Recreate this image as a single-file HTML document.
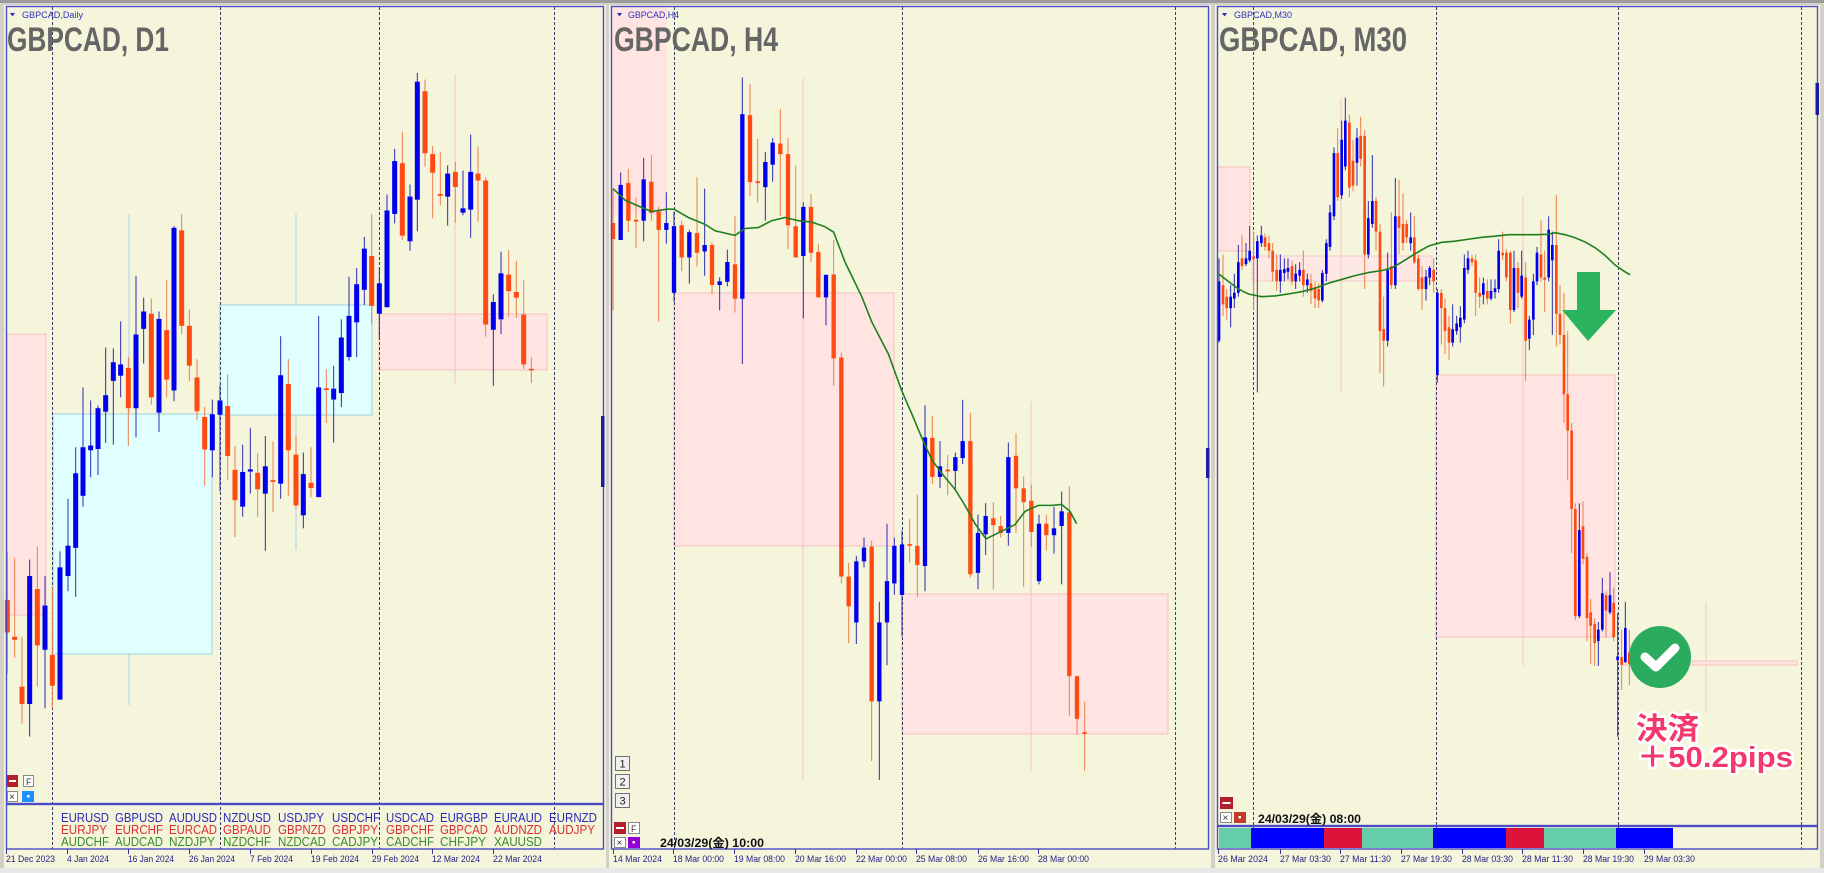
<!DOCTYPE html>
<html><head><meta charset="utf-8"><style>
html,body{margin:0;padding:0;background:#d4d0c8;overflow:hidden}
svg{display:block}
.b{fill:#0000ee}.o{fill:#ff4a12}.bw{fill:#2c2cb4}.ow{fill:#ee7f4c}
.t{font-family:"Liberation Sans","Noto Sans CJK JP",sans-serif}
.ax{font-family:"Liberation Sans",sans-serif;font-size:9px;fill:#222288}
.cur{font-family:"Liberation Sans",sans-serif;font-size:13px}
.dash{stroke:#3a3a70;stroke-width:1;stroke-dasharray:3,2}
.pk{fill:#ffe4e1;stroke:#f7c0c0;stroke-width:1}
.cy{fill:#e0ffff;stroke:#9fd0e2;stroke-width:1}
</style></head><body>
<svg width="1824" height="873" viewBox="0 0 1824 873" xmlns="http://www.w3.org/2000/svg">
<rect width="1824" height="873" fill="#d4d0c8"/>
<rect x="0" y="0" width="1824" height="3" fill="#9c9c9c"/>
<rect x="0" y="868" width="1824" height="5" fill="#e8e8e8"/>
<!-- window backgrounds -->
<rect x="4" y="5" width="602" height="863" fill="#f5f5dc"/>
<rect x="609" y="5" width="602" height="863" fill="#f5f5dc"/>
<rect x="1215" y="5" width="605" height="863" fill="#f5f5dc"/>

<!-- ===== LEFT PANEL ===== -->
<rect class="pk" x="7" y="334" width="39" height="281"/>
<rect class="cy" x="53" y="414" width="159" height="240"/>
<rect class="cy" x="220" y="305" width="152" height="110"/>
<rect class="pk" x="379" y="314" width="168" height="56"/>
<rect x="128.5" y="214" width="1" height="200" fill="#a8d4e4"/>
<rect x="128.5" y="654" width="1" height="51" fill="#a8d4e4"/>
<rect x="295.5" y="214" width="1" height="91" fill="#a8d4e4"/>
<rect x="295.5" y="415" width="1" height="135" fill="#a8d4e4"/>
<rect x="454.5" y="74" width="1" height="310" fill="#f6c4c4"/>
<line class="dash" x1="52.5" y1="7" x2="52.5" y2="849"/>
<line class="dash" x1="220.5" y1="7" x2="220.5" y2="849"/>
<line class="dash" x1="379.5" y1="7" x2="379.5" y2="849"/>
<line class="dash" x1="554.5" y1="7" x2="554.5" y2="849"/>
<g transform="translate(0,60) scale(0.33333,0.43365)">
<rect class="ow" x="20.5" y="1135" width="3" height="280"/><rect class="o" x="14.5" y="1245" width="15" height="75"/>
<rect class="ow" x="42.5" y="1148" width="3" height="230"/><rect class="o" x="36.5" y="1330" width="15" height="7"/>
<rect class="ow" x="64.5" y="1330" width="3" height="200"/><rect class="o" x="58.5" y="1445" width="15" height="40"/>
<rect class="bw" x="87.5" y="1152" width="3" height="408"/><rect class="b" x="81.5" y="1190" width="15" height="295"/>
<rect class="ow" x="110.5" y="1122" width="3" height="323"/><rect class="o" x="104.5" y="1220" width="15" height="130"/>
<rect class="bw" x="133.5" y="1190" width="3" height="305"/><rect class="b" x="127.5" y="1258" width="15" height="102"/>
<rect class="ow" x="155.5" y="1215" width="3" height="280"/><rect class="o" x="149.5" y="1372" width="15" height="71"/>
<rect class="bw" x="178.5" y="1133" width="3" height="342"/><rect class="b" x="172.5" y="1170" width="15" height="305"/>
<rect class="bw" x="202.5" y="1012" width="3" height="213"/><rect class="b" x="196.5" y="1120" width="15" height="70"/>
<rect class="bw" x="225.5" y="893" width="3" height="345"/><rect class="b" x="219.5" y="953" width="15" height="172"/>
<rect class="bw" x="247.5" y="755" width="3" height="275"/><rect class="b" x="241.5" y="893" width="15" height="112"/>
<rect class="bw" x="270.5" y="785" width="3" height="177"/><rect class="b" x="264.5" y="889" width="15" height="11"/>
<rect class="bw" x="292.5" y="797" width="3" height="160"/><rect class="b" x="286.5" y="803" width="15" height="94"/>
<rect class="bw" x="315.5" y="663" width="3" height="220"/><rect class="b" x="309.5" y="773" width="15" height="38"/>
<rect class="bw" x="338.5" y="665" width="3" height="222"/><rect class="b" x="332.5" y="697" width="15" height="43"/>
<rect class="bw" x="360.5" y="603" width="3" height="175"/><rect class="b" x="354.5" y="702" width="15" height="26"/>
<rect class="ow" x="383.5" y="685" width="3" height="205"/><rect class="o" x="377.5" y="710" width="15" height="93"/>
<rect class="bw" x="406.5" y="498" width="3" height="372"/><rect class="b" x="400.5" y="633" width="15" height="170"/>
<rect class="bw" x="429.5" y="548" width="3" height="152"/><rect class="b" x="423.5" y="580" width="15" height="40"/>
<rect class="ow" x="452.5" y="550" width="3" height="245"/><rect class="o" x="446.5" y="585" width="15" height="193"/>
<rect class="bw" x="475.5" y="580" width="3" height="278"/><rect class="b" x="469.5" y="597" width="15" height="216"/>
<rect class="ow" x="498.5" y="507" width="3" height="271"/><rect class="o" x="492.5" y="623" width="15" height="114"/>
<rect class="bw" x="520.5" y="383" width="3" height="404"/><rect class="b" x="514.5" y="387" width="15" height="375"/>
<rect class="ow" x="543.5" y="355" width="3" height="277"/><rect class="o" x="537.5" y="393" width="15" height="220"/>
<rect class="ow" x="566.5" y="575" width="3" height="165"/><rect class="o" x="560.5" y="613" width="15" height="92"/>
<rect class="ow" x="589.5" y="690" width="3" height="140"/><rect class="o" x="583.5" y="732" width="15" height="78"/>
<rect class="ow" x="612.5" y="800" width="3" height="182"/><rect class="o" x="606.5" y="823" width="15" height="75"/>
<rect class="bw" x="635.5" y="783" width="3" height="179"/><rect class="b" x="629.5" y="817" width="15" height="83"/>
<rect class="bw" x="658.5" y="750" width="3" height="245"/><rect class="b" x="652.5" y="785" width="15" height="33"/>
<rect class="ow" x="681.5" y="725" width="3" height="243"/><rect class="o" x="675.5" y="798" width="15" height="115"/>
<rect class="ow" x="703.5" y="890" width="3" height="210"/><rect class="o" x="697.5" y="945" width="15" height="70"/>
<rect class="bw" x="726.5" y="887" width="3" height="166"/><rect class="b" x="720.5" y="950" width="15" height="80"/>
<rect class="bw" x="749.5" y="848" width="3" height="152"/><rect class="b" x="743.5" y="944" width="15" height="5"/>
<rect class="ow" x="771.5" y="907" width="3" height="146"/><rect class="o" x="765.5" y="952" width="15" height="38"/>
<rect class="bw" x="794.5" y="867" width="3" height="265"/><rect class="b" x="788.5" y="937" width="15" height="63"/>
<rect class="ow" x="817.5" y="880" width="3" height="163"/><rect class="o" x="811.5" y="969" width="15" height="4"/>
<rect class="bw" x="840.5" y="637" width="3" height="375"/><rect class="b" x="834.5" y="727" width="15" height="250"/>
<rect class="ow" x="863.5" y="690" width="3" height="315"/><rect class="o" x="857.5" y="747" width="15" height="153"/>
<rect class="ow" x="886.5" y="867" width="3" height="168"/><rect class="o" x="880.5" y="910" width="15" height="117"/>
<rect class="bw" x="908.5" y="905" width="3" height="175"/><rect class="b" x="902.5" y="955" width="15" height="95"/>
</g>
<g transform="translate(300,60) scale(0.33333,0.43365)">
<rect class="ow" x="31.5" y="893" width="3" height="115"/><rect class="o" x="25.5" y="975" width="15" height="12"/>
<rect class="bw" x="54.5" y="590" width="3" height="418"/><rect class="b" x="48.5" y="755" width="15" height="253"/>
<rect class="ow" x="77.5" y="713" width="3" height="124"/><rect class="o" x="71.5" y="757" width="15" height="4"/>
<rect class="bw" x="99.5" y="705" width="3" height="177"/><rect class="b" x="93.5" y="758" width="15" height="25"/>
<rect class="bw" x="122.5" y="598" width="3" height="202"/><rect class="b" x="116.5" y="640" width="15" height="128"/>
<rect class="bw" x="145.5" y="500" width="3" height="193"/><rect class="b" x="139.5" y="590" width="15" height="95"/>
<rect class="bw" x="168.5" y="480" width="3" height="205"/><rect class="b" x="162.5" y="517" width="15" height="88"/>
<rect class="bw" x="191.5" y="408" width="3" height="157"/><rect class="b" x="185.5" y="435" width="15" height="95"/>
<rect class="ow" x="213.5" y="355" width="3" height="255"/><rect class="o" x="207.5" y="452" width="15" height="115"/>
<rect class="bw" x="236.5" y="478" width="3" height="162"/><rect class="b" x="230.5" y="515" width="15" height="70"/>
<rect class="bw" x="259.5" y="310" width="3" height="260"/><rect class="b" x="253.5" y="347" width="15" height="223"/>
<rect class="bw" x="282.5" y="205" width="3" height="172"/><rect class="b" x="276.5" y="233" width="15" height="122"/>
<rect class="ow" x="305.5" y="165" width="3" height="250"/><rect class="o" x="299.5" y="238" width="15" height="167"/>
<rect class="bw" x="328.5" y="287" width="3" height="153"/><rect class="b" x="322.5" y="315" width="15" height="103"/>
<rect class="bw" x="350.5" y="30" width="3" height="365"/><rect class="b" x="344.5" y="50" width="15" height="272"/>
<rect class="ow" x="373.5" y="45" width="3" height="200"/><rect class="o" x="367.5" y="72" width="15" height="143"/>
<rect class="ow" x="396.5" y="198" width="3" height="167"/><rect class="o" x="390.5" y="217" width="15" height="43"/>
<rect class="ow" x="419.5" y="213" width="3" height="122"/><rect class="o" x="413.5" y="309" width="15" height="4"/>
<rect class="bw" x="441.5" y="243" width="3" height="139"/><rect class="b" x="435.5" y="262" width="15" height="53"/>
<rect class="ow" x="464.5" y="235" width="3" height="140"/><rect class="o" x="458.5" y="258" width="15" height="35"/>
<rect class="bw" x="487.5" y="255" width="3" height="103"/><rect class="b" x="481.5" y="342" width="15" height="10"/>
<rect class="bw" x="510.5" y="172" width="3" height="238"/><rect class="b" x="504.5" y="258" width="15" height="87"/>
<rect class="ow" x="532.5" y="200" width="3" height="173"/><rect class="o" x="526.5" y="262" width="15" height="16"/>
<rect class="ow" x="555.5" y="270" width="3" height="368"/><rect class="o" x="549.5" y="278" width="15" height="332"/>
<rect class="bw" x="578.5" y="540" width="3" height="212"/><rect class="b" x="572.5" y="558" width="15" height="64"/>
<rect class="bw" x="601.5" y="442" width="3" height="190"/><rect class="b" x="595.5" y="492" width="15" height="106"/>
<rect class="ow" x="624.5" y="438" width="3" height="155"/><rect class="o" x="618.5" y="495" width="15" height="38"/>
<rect class="ow" x="647.5" y="463" width="3" height="132"/><rect class="o" x="641.5" y="535" width="15" height="13"/>
<rect class="ow" x="669.5" y="508" width="3" height="205"/><rect class="o" x="663.5" y="587" width="15" height="115"/>
<rect class="ow" x="692.5" y="685" width="3" height="60"/><rect class="o" x="686.5" y="712" width="15" height="4"/>
</g>
<!-- left borders -->
<rect x="6.5" y="6.5" width="597" height="797" fill="none" stroke="#4b4bc6" stroke-width="1.4"/>
<rect x="6.5" y="804.5" width="597" height="44.5" fill="none" stroke="#4b4bc6" stroke-width="1.4"/>
<rect x="601" y="416" width="3.5" height="71" fill="#1c1ca0"/>
<!-- left titles -->
<polygon points="10,13 15,13 12.5,16.5" fill="#2a2ac0"/>
<text class="t" x="22" y="18" font-size="9" fill="#3030c0" textLength="61" lengthAdjust="spacingAndGlyphs">GBPCAD,Daily</text>
<text class="t" x="7" y="51" font-size="34" font-weight="bold" fill="#666666" textLength="162" lengthAdjust="spacingAndGlyphs">GBPCAD, D1</text>
<!-- left buttons -->
<rect x="7" y="775" width="11" height="12" fill="#b3202c"/><rect x="9" y="780" width="7" height="2" fill="#fff"/>
<rect x="23.5" y="775.5" width="10" height="11" fill="#fff" stroke="#888"/><text class="t" x="26" y="785" font-size="9" fill="#333">F</text>
<rect x="7.5" y="791.5" width="10" height="10" fill="#fff" stroke="#888"/><text class="t" x="9" y="800" font-size="10" fill="#333">×</text>
<rect x="22" y="791" width="12" height="11" fill="#1e8fff"/><rect x="27" y="795" width="2.5" height="2.5" fill="#fff"/>
<!-- currency subwindow -->
<g class="cur">
<g fill="#2b2bb8">
<text x="61" y="822" textLength="48" lengthAdjust="spacingAndGlyphs">EURUSD</text>
<text x="115" y="822" textLength="48" lengthAdjust="spacingAndGlyphs">GBPUSD</text>
<text x="169" y="822" textLength="48" lengthAdjust="spacingAndGlyphs">AUDUSD</text>
<text x="223" y="822" textLength="48" lengthAdjust="spacingAndGlyphs">NZDUSD</text>
<text x="278" y="822" textLength="46" lengthAdjust="spacingAndGlyphs">USDJPY</text>
<text x="332" y="822" textLength="48" lengthAdjust="spacingAndGlyphs">USDCHF</text>
<text x="386" y="822" textLength="48" lengthAdjust="spacingAndGlyphs">USDCAD</text>
<text x="440" y="822" textLength="48" lengthAdjust="spacingAndGlyphs">EURGBP</text>
<text x="494" y="822" textLength="48" lengthAdjust="spacingAndGlyphs">EURAUD</text>
<text x="549" y="822" textLength="48" lengthAdjust="spacingAndGlyphs">EURNZD</text>
</g>
<g fill="#d83030">
<text x="61" y="834" textLength="46" lengthAdjust="spacingAndGlyphs">EURJPY</text>
<text x="115" y="834" textLength="48" lengthAdjust="spacingAndGlyphs">EURCHF</text>
<text x="169" y="834" textLength="48" lengthAdjust="spacingAndGlyphs">EURCAD</text>
<text x="223" y="834" textLength="48" lengthAdjust="spacingAndGlyphs">GBPAUD</text>
<text x="278" y="834" textLength="48" lengthAdjust="spacingAndGlyphs">GBPNZD</text>
<text x="332" y="834" textLength="46" lengthAdjust="spacingAndGlyphs">GBPJPY</text>
<text x="386" y="834" textLength="48" lengthAdjust="spacingAndGlyphs">GBPCHF</text>
<text x="440" y="834" textLength="48" lengthAdjust="spacingAndGlyphs">GBPCAD</text>
<text x="494" y="834" textLength="48" lengthAdjust="spacingAndGlyphs">AUDNZD</text>
<text x="549" y="834" textLength="46" lengthAdjust="spacingAndGlyphs">AUDJPY</text>
</g>
<g fill="#3a8a2a">
<text x="61" y="846" textLength="48" lengthAdjust="spacingAndGlyphs">AUDCHF</text>
<text x="115" y="846" textLength="48" lengthAdjust="spacingAndGlyphs">AUDCAD</text>
<text x="169" y="846" textLength="46" lengthAdjust="spacingAndGlyphs">NZDJPY</text>
<text x="223" y="846" textLength="48" lengthAdjust="spacingAndGlyphs">NZDCHF</text>
<text x="278" y="846" textLength="48" lengthAdjust="spacingAndGlyphs">NZDCAD</text>
<text x="332" y="846" textLength="46" lengthAdjust="spacingAndGlyphs">CADJPY</text>
<text x="386" y="846" textLength="48" lengthAdjust="spacingAndGlyphs">CADCHF</text>
<text x="440" y="846" textLength="46" lengthAdjust="spacingAndGlyphs">CHFJPY</text>
<text x="494" y="846" textLength="48" lengthAdjust="spacingAndGlyphs">XAUUSD</text>
</g>
</g>
<!-- left axis -->
<g stroke="#333399" stroke-width="1">
<line x1="6.5" y1="849" x2="6.5" y2="854"/><line x1="67.5" y1="849" x2="67.5" y2="854"/><line x1="128.5" y1="849" x2="128.5" y2="854"/><line x1="189.5" y1="849" x2="189.5" y2="854"/><line x1="250.5" y1="849" x2="250.5" y2="854"/><line x1="311.5" y1="849" x2="311.5" y2="854"/><line x1="372.5" y1="849" x2="372.5" y2="854"/><line x1="432.5" y1="849" x2="432.5" y2="854"/><line x1="493.5" y1="849" x2="493.5" y2="854"/>
</g>
<g class="ax">
<text x="6" y="862" textLength="49" lengthAdjust="spacingAndGlyphs">21 Dec 2023</text>
<text x="67" y="862" textLength="42" lengthAdjust="spacingAndGlyphs">4 Jan 2024</text>
<text x="128" y="862" textLength="46" lengthAdjust="spacingAndGlyphs">16 Jan 2024</text>
<text x="189" y="862" textLength="46" lengthAdjust="spacingAndGlyphs">26 Jan 2024</text>
<text x="250" y="862" textLength="43" lengthAdjust="spacingAndGlyphs">7 Feb 2024</text>
<text x="311" y="862" textLength="48" lengthAdjust="spacingAndGlyphs">19 Feb 2024</text>
<text x="372" y="862" textLength="47" lengthAdjust="spacingAndGlyphs">29 Feb 2024</text>
<text x="432" y="862" textLength="48" lengthAdjust="spacingAndGlyphs">12 Mar 2024</text>
<text x="493" y="862" textLength="49" lengthAdjust="spacingAndGlyphs">22 Mar 2024</text>
</g>

<!-- ===== MIDDLE PANEL ===== -->
<rect x="611" y="6" width="56" height="209" fill="#ffe4e1"/>
<rect class="pk" x="674" y="293" width="220" height="253"/>
<rect class="pk" x="902" y="594" width="266" height="140"/>
<rect x="802.5" y="78" width="1" height="702" fill="#f6c4c4"/>
<rect x="1030.5" y="401" width="1" height="370" fill="#f6c4c4"/>
<line class="dash" x1="674.5" y1="7" x2="674.5" y2="849"/>
<line class="dash" x1="902.5" y1="7" x2="902.5" y2="849"/>
<line class="dash" x1="1175.5" y1="7" x2="1175.5" y2="849"/>
<g transform="translate(605,60) scale(0.33333,0.45914)">
<rect class="ow" x="22.5" y="280" width="3" height="265"/><rect class="o" x="17.5" y="355" width="13" height="35"/>
<rect class="bw" x="45.5" y="245" width="3" height="147"/><rect class="b" x="40.5" y="272" width="13" height="120"/>
<rect class="ow" x="68.5" y="237" width="3" height="138"/><rect class="o" x="63.5" y="268" width="13" height="82"/>
<rect class="ow" x="91.5" y="300" width="3" height="110"/><rect class="o" x="86.5" y="348" width="13" height="4"/>
<rect class="bw" x="114.5" y="213" width="3" height="182"/><rect class="b" x="109.5" y="260" width="13" height="90"/>
<rect class="ow" x="137.5" y="207" width="3" height="143"/><rect class="o" x="132.5" y="265" width="13" height="68"/>
<rect class="ow" x="159.5" y="320" width="3" height="250"/><rect class="o" x="154.5" y="330" width="13" height="40"/>
<rect class="bw" x="182.5" y="288" width="3" height="112"/><rect class="b" x="177.5" y="355" width="13" height="15"/>
<rect class="bw" x="205.5" y="330" width="3" height="197"/><rect class="b" x="200.5" y="362" width="13" height="145"/>
<rect class="ow" x="228.5" y="350" width="3" height="110"/><rect class="o" x="223.5" y="360" width="13" height="70"/>
<rect class="bw" x="251.5" y="370" width="3" height="117"/><rect class="b" x="246.5" y="375" width="13" height="55"/>
<rect class="ow" x="274.5" y="255" width="3" height="195"/><rect class="o" x="269.5" y="377" width="13" height="43"/>
<rect class="bw" x="297.5" y="280" width="3" height="190"/><rect class="b" x="292.5" y="403" width="13" height="14"/>
<rect class="ow" x="319.5" y="397" width="3" height="113"/><rect class="o" x="314.5" y="403" width="13" height="87"/>
<rect class="bw" x="342.5" y="473" width="3" height="72"/><rect class="b" x="337.5" y="482" width="13" height="8"/>
<rect class="bw" x="365.5" y="413" width="3" height="80"/><rect class="b" x="360.5" y="440" width="13" height="43"/>
<rect class="ow" x="388.5" y="340" width="3" height="210"/><rect class="o" x="383.5" y="445" width="13" height="75"/>
<rect class="bw" x="410.5" y="38" width="3" height="624"/><rect class="b" x="405.5" y="118" width="13" height="402"/>
<rect class="ow" x="433.5" y="52" width="3" height="245"/><rect class="o" x="428.5" y="120" width="13" height="146"/>
<rect class="ow" x="456.5" y="172" width="3" height="138"/><rect class="o" x="451.5" y="264" width="13" height="4"/>
<rect class="bw" x="479.5" y="200" width="3" height="150"/><rect class="b" x="474.5" y="222" width="13" height="55"/>
<rect class="bw" x="501.5" y="170" width="3" height="95"/><rect class="b" x="496.5" y="180" width="13" height="48"/>
<rect class="ow" x="524.5" y="107" width="3" height="233"/><rect class="o" x="519.5" y="182" width="13" height="23"/>
<rect class="ow" x="547.5" y="170" width="3" height="242"/><rect class="o" x="542.5" y="205" width="13" height="155"/>
<rect class="ow" x="570.5" y="230" width="3" height="200"/><rect class="o" x="565.5" y="362" width="13" height="68"/>
<rect class="bw" x="593.5" y="310" width="3" height="253"/><rect class="b" x="588.5" y="320" width="13" height="107"/>
<rect class="ow" x="616.5" y="292" width="3" height="148"/><rect class="o" x="611.5" y="320" width="13" height="100"/>
<rect class="ow" x="638.5" y="400" width="3" height="117"/><rect class="o" x="633.5" y="418" width="13" height="99"/>
<rect class="bw" x="661.5" y="467" width="3" height="111"/><rect class="b" x="656.5" y="468" width="13" height="49"/>
<rect class="ow" x="684.5" y="392" width="3" height="318"/><rect class="o" x="679.5" y="467" width="13" height="183"/>
<rect class="ow" x="707.5" y="637" width="3" height="503"/><rect class="o" x="702.5" y="648" width="13" height="477"/>
<rect class="ow" x="729.5" y="1095" width="3" height="175"/><rect class="o" x="724.5" y="1125" width="13" height="65"/>
<rect class="bw" x="752.5" y="1080" width="3" height="192"/><rect class="b" x="747.5" y="1092" width="13" height="133"/>
<rect class="bw" x="775.5" y="1040" width="3" height="65"/><rect class="b" x="770.5" y="1062" width="13" height="30"/>
<rect class="ow" x="798.5" y="1047" width="3" height="480"/><rect class="o" x="793.5" y="1060" width="13" height="337"/>
<rect class="bw" x="821.5" y="1180" width="3" height="388"/><rect class="b" x="816.5" y="1225" width="13" height="172"/>
<rect class="bw" x="844.5" y="1010" width="3" height="308"/><rect class="b" x="839.5" y="1135" width="13" height="90"/>
<rect class="bw" x="866.5" y="1040" width="3" height="125"/><rect class="b" x="861.5" y="1058" width="13" height="82"/>
<rect class="bw" x="889.5" y="1025" width="3" height="230"/><rect class="b" x="884.5" y="1055" width="13" height="110"/>
<rect class="ow" x="912.5" y="1000" width="3" height="95"/><rect class="o" x="907.5" y="1054" width="13" height="4"/>
<rect class="ow" x="935.5" y="947" width="3" height="223"/><rect class="o" x="930.5" y="1058" width="13" height="42"/>
<rect class="bw" x="958.5" y="752" width="3" height="405"/><rect class="b" x="953.5" y="822" width="13" height="280"/>
<rect class="ow" x="980.5" y="775" width="3" height="148"/><rect class="o" x="975.5" y="823" width="13" height="85"/>
<rect class="bw" x="1003.5" y="830" width="3" height="102"/><rect class="b" x="998.5" y="885" width="13" height="23"/>
<rect class="ow" x="1026.5" y="860" width="3" height="88"/><rect class="o" x="1021.5" y="892" width="13" height="4"/>
<rect class="bw" x="1049.5" y="855" width="3" height="83"/><rect class="b" x="1044.5" y="865" width="13" height="30"/>
<rect class="bw" x="1071.5" y="740" width="3" height="140"/><rect class="b" x="1066.5" y="830" width="13" height="37"/>
<rect class="ow" x="1094.5" y="768" width="3" height="359"/><rect class="o" x="1089.5" y="830" width="13" height="290"/>
<rect class="bw" x="1117.5" y="990" width="3" height="163"/><rect class="b" x="1112.5" y="1030" width="13" height="87"/>
<rect class="bw" x="1140.5" y="965" width="3" height="113"/><rect class="b" x="1135.5" y="993" width="13" height="40"/>
<rect class="ow" x="1163.5" y="963" width="3" height="190"/><rect class="o" x="1158.5" y="998" width="13" height="15"/>
<rect class="ow" x="1185.5" y="993" width="3" height="47"/><rect class="o" x="1180.5" y="1015" width="13" height="15"/>
<rect class="bw" x="1208.5" y="833" width="3" height="225"/><rect class="b" x="1203.5" y="865" width="13" height="165"/>
<rect class="ow" x="1231.5" y="813" width="3" height="217"/><rect class="o" x="1226.5" y="862" width="13" height="71"/>
<rect class="ow" x="1254.5" y="907" width="3" height="241"/><rect class="o" x="1249.5" y="933" width="13" height="30"/>
<rect class="ow" x="1277.5" y="925" width="3" height="135"/><rect class="o" x="1272.5" y="960" width="13" height="68"/>
<rect class="bw" x="1300.5" y="990" width="3" height="152"/><rect class="b" x="1295.5" y="1010" width="13" height="125"/>
<rect class="ow" x="1322.5" y="990" width="3" height="78"/><rect class="o" x="1317.5" y="1010" width="13" height="25"/>
<rect class="bw" x="1345.5" y="973" width="3" height="102"/><rect class="b" x="1340.5" y="1020" width="13" height="15"/>
<rect class="bw" x="1368.5" y="940" width="3" height="202"/><rect class="b" x="1363.5" y="983" width="13" height="32"/>
<rect class="ow" x="1391.5" y="928" width="3" height="500"/><rect class="o" x="1386.5" y="985" width="13" height="357"/>
<rect class="ow" x="1414.5" y="1342" width="3" height="128"/><rect class="o" x="1409.5" y="1342" width="13" height="93"/>
<rect class="ow" x="1437.5" y="1398" width="3" height="150"/><rect class="o" x="1432.5" y="1464" width="13" height="4"/>
<polyline fill="none" stroke="#1f7f1f" stroke-width="1.6" vector-effect="non-scaling-stroke" points="24,280 60,305 100,318 140,330 185,325 207,325 250,343 300,358 330,372 390,382 420,367 460,365 500,350 540,343 580,350 620,353 660,363 686,375 720,440 770,515 800,570 850,640 890,720 920,770 950,822 980,870 1010,900 1050,935 1080,970 1110,1010 1143,1043 1180,1030 1230,1012 1260,983 1300,970 1340,970 1370,968 1395,983 1415,1010"/>
</g>
<rect x="611.5" y="6.5" width="597" height="842.5" fill="none" stroke="#4b4bc6" stroke-width="1.4"/>
<rect x="1206" y="448" width="3.5" height="30" fill="#1c1ca0"/>
<polygon points="617,13 622,13 619.5,16.5" fill="#2a2ac0"/>
<text class="t" x="628" y="18" font-size="9" fill="#3030c0" textLength="51" lengthAdjust="spacingAndGlyphs">GBPCAD,H4</text>
<text class="t" x="614" y="51" font-size="34" font-weight="bold" fill="#666666" textLength="164" lengthAdjust="spacingAndGlyphs">GBPCAD, H4</text>
<!-- middle buttons -->
<g font-family="Liberation Sans,sans-serif" font-size="11" fill="#222">
<rect x="615.5" y="756.5" width="14" height="14" fill="#f0f0f0" stroke="#707070"/><text x="619.5" y="767.5">1</text>
<rect x="615.5" y="774.5" width="14" height="14" fill="#f0f0f0" stroke="#707070"/><text x="619.5" y="785.5">2</text>
<rect x="615.5" y="793.5" width="14" height="14" fill="#f0f0f0" stroke="#707070"/><text x="619.5" y="804.5">3</text>
</g>
<rect x="614" y="822" width="12" height="12" fill="#b3202c"/><rect x="616" y="827" width="8" height="2" fill="#fff"/>
<rect x="628.5" y="822.5" width="11" height="11" fill="#fff" stroke="#888"/><text class="t" x="631" y="832" font-size="9" fill="#333">F</text>
<rect x="614.5" y="837.5" width="11" height="10" fill="#fff" stroke="#888"/><text class="t" x="616.5" y="846" font-size="10" fill="#333">×</text>
<rect x="628" y="837" width="12" height="11" fill="#9400d3"/><rect x="632.5" y="841" width="2.5" height="2.5" fill="#fff"/>
<text class="t" x="660" y="847" font-size="12" font-weight="bold" fill="#111" textLength="104" lengthAdjust="spacingAndGlyphs">24/03/29(金) 10:00</text>
<g stroke="#333399" stroke-width="1">
<line x1="613.5" y1="849" x2="613.5" y2="854"/><line x1="673.5" y1="849" x2="673.5" y2="854"/><line x1="734.5" y1="849" x2="734.5" y2="854"/><line x1="795.5" y1="849" x2="795.5" y2="854"/><line x1="856.5" y1="849" x2="856.5" y2="854"/><line x1="916.5" y1="849" x2="916.5" y2="854"/><line x1="978.5" y1="849" x2="978.5" y2="854"/><line x1="1038.5" y1="849" x2="1038.5" y2="854"/>
</g>
<g class="ax">
<text x="613" y="862" textLength="49" lengthAdjust="spacingAndGlyphs">14 Mar 2024</text>
<text x="673" y="862" textLength="51" lengthAdjust="spacingAndGlyphs">18 Mar 00:00</text>
<text x="734" y="862" textLength="51" lengthAdjust="spacingAndGlyphs">19 Mar 08:00</text>
<text x="795" y="862" textLength="51" lengthAdjust="spacingAndGlyphs">20 Mar 16:00</text>
<text x="856" y="862" textLength="51" lengthAdjust="spacingAndGlyphs">22 Mar 00:00</text>
<text x="916" y="862" textLength="51" lengthAdjust="spacingAndGlyphs">25 Mar 08:00</text>
<text x="978" y="862" textLength="51" lengthAdjust="spacingAndGlyphs">26 Mar 16:00</text>
<text x="1038" y="862" textLength="51" lengthAdjust="spacingAndGlyphs">28 Mar 00:00</text>
</g>

<!-- ===== RIGHT PANEL ===== -->
<rect class="pk" x="1218" y="167" width="32" height="84"/>
<rect x="1252" y="256" width="180" height="25" fill="#fde8e4" stroke="#f7cccc" stroke-width="1"/>
<rect class="pk" x="1436" y="375" width="179" height="262"/>
<rect x="1340.5" y="98" width="1" height="294" fill="#f6c4c4"/>
<rect x="1522.5" y="197" width="1" height="469" fill="#f6c4c4"/>
<rect x="1705.5" y="603" width="1" height="110" fill="#f6c4c4"/>
<rect x="1622" y="661" width="175" height="4" fill="#ffe4e1" stroke="#f7c0c0" stroke-width="1"/>
<line class="dash" x1="1253.5" y1="7" x2="1253.5" y2="849"/>
<line class="dash" x1="1436.5" y1="7" x2="1436.5" y2="849"/>
<line class="dash" x1="1618.5" y1="7" x2="1618.5" y2="849"/>
<line class="dash" x1="1801.5" y1="7" x2="1801.5" y2="849"/>
<g transform="translate(1215,90) scale(0.33333,0.3827)">
<rect class="bw" x="10.5" y="440" width="3" height="220"/><rect class="b" x="8" y="500" width="8" height="155"/>
<rect class="ow" x="22.5" y="430" width="3" height="160"/><rect class="o" x="20" y="510" width="8" height="50"/>
<rect class="ow" x="33.5" y="520" width="3" height="80"/><rect class="o" x="31" y="540" width="8" height="30"/>
<rect class="bw" x="45.5" y="510" width="3" height="110"/><rect class="b" x="43" y="540" width="8" height="30"/>
<rect class="bw" x="56.5" y="480" width="3" height="90"/><rect class="b" x="54" y="530" width="8" height="15"/>
<rect class="bw" x="68.5" y="405" width="3" height="135"/><rect class="b" x="66" y="450" width="8" height="80"/>
<rect class="ow" x="79.5" y="380" width="3" height="90"/><rect class="o" x="77" y="440" width="8" height="20"/>
<rect class="bw" x="91.5" y="400" width="3" height="60"/><rect class="b" x="89" y="440" width="8" height="15"/>
<rect class="bw" x="102.5" y="355" width="3" height="95"/><rect class="b" x="100" y="420" width="8" height="25"/>
<rect class="ow" x="114.5" y="370" width="3" height="205"/><rect class="o" x="112" y="435" width="8" height="6"/>
<rect class="bw" x="125.5" y="380" width="3" height="410"/><rect class="b" x="123" y="395" width="8" height="45"/>
<rect class="bw" x="137.5" y="355" width="3" height="55"/><rect class="b" x="135" y="380" width="8" height="20"/>
<rect class="ow" x="148.5" y="375" width="3" height="45"/><rect class="o" x="146" y="385" width="8" height="25"/>
<rect class="ow" x="160.5" y="380" width="3" height="60"/><rect class="o" x="158" y="400" width="8" height="20"/>
<rect class="ow" x="171.5" y="400" width="3" height="100"/><rect class="o" x="169" y="420" width="8" height="55"/>
<rect class="ow" x="183.5" y="430" width="3" height="95"/><rect class="o" x="181" y="470" width="8" height="30"/>
<rect class="bw" x="194.5" y="430" width="3" height="100"/><rect class="b" x="192" y="470" width="8" height="30"/>
<rect class="bw" x="206.5" y="440" width="3" height="60"/><rect class="b" x="204" y="468" width="8" height="10"/>
<rect class="bw" x="217.5" y="440" width="3" height="55"/><rect class="b" x="215" y="465" width="8" height="10"/>
<rect class="ow" x="229.5" y="445" width="3" height="65"/><rect class="o" x="227" y="460" width="8" height="40"/>
<rect class="bw" x="240.5" y="455" width="3" height="65"/><rect class="b" x="238" y="480" width="8" height="20"/>
<rect class="bw" x="252.5" y="450" width="3" height="50"/><rect class="b" x="250" y="470" width="8" height="15"/>
<rect class="ow" x="263.5" y="420" width="3" height="120"/><rect class="o" x="261" y="470" width="8" height="40"/>
<rect class="bw" x="275.5" y="480" width="3" height="50"/><rect class="b" x="273" y="495" width="8" height="15"/>
<rect class="ow" x="286.5" y="480" width="3" height="80"/><rect class="o" x="284" y="505" width="8" height="20"/>
<rect class="ow" x="298.5" y="500" width="3" height="70"/><rect class="o" x="296" y="515" width="8" height="30"/>
<rect class="ow" x="309.5" y="505" width="3" height="65"/><rect class="o" x="307" y="520" width="8" height="30"/>
<rect class="bw" x="320.5" y="470" width="3" height="85"/><rect class="b" x="318" y="478" width="8" height="72"/>
<rect class="bw" x="332.5" y="390" width="3" height="110"/><rect class="b" x="330" y="400" width="8" height="80"/>
<rect class="bw" x="343.5" y="300" width="3" height="120"/><rect class="b" x="341" y="320" width="8" height="90"/>
<rect class="bw" x="355.5" y="150" width="3" height="190"/><rect class="b" x="353" y="165" width="8" height="165"/>
<rect class="ow" x="366.5" y="100" width="3" height="190"/><rect class="o" x="364" y="165" width="8" height="115"/>
<rect class="bw" x="378.5" y="80" width="3" height="205"/><rect class="b" x="376" y="130" width="8" height="145"/>
<rect class="bw" x="389.5" y="20" width="3" height="190"/><rect class="b" x="387" y="80" width="8" height="120"/>
<rect class="ow" x="401.5" y="65" width="3" height="215"/><rect class="o" x="399" y="85" width="8" height="170"/>
<rect class="ow" x="412.5" y="130" width="3" height="135"/><rect class="o" x="410" y="185" width="8" height="65"/>
<rect class="bw" x="424.5" y="100" width="3" height="150"/><rect class="b" x="422" y="125" width="8" height="65"/>
<rect class="ow" x="435.5" y="70" width="3" height="130"/><rect class="o" x="433" y="120" width="8" height="60"/>
<rect class="ow" x="447.5" y="105" width="3" height="415"/><rect class="o" x="445" y="120" width="8" height="310"/>
<rect class="bw" x="458.5" y="290" width="3" height="150"/><rect class="b" x="456" y="335" width="8" height="95"/>
<rect class="bw" x="470.5" y="170" width="3" height="190"/><rect class="b" x="468" y="290" width="8" height="60"/>
<rect class="ow" x="481.5" y="280" width="3" height="140"/><rect class="o" x="479" y="290" width="8" height="80"/>
<rect class="ow" x="493.5" y="350" width="3" height="390"/><rect class="o" x="491" y="370" width="8" height="260"/>
<rect class="ow" x="504.5" y="540" width="3" height="235"/><rect class="o" x="502" y="625" width="8" height="30"/>
<rect class="bw" x="516.5" y="425" width="3" height="245"/><rect class="b" x="514" y="470" width="8" height="185"/>
<rect class="ow" x="527.5" y="320" width="3" height="200"/><rect class="o" x="525" y="460" width="8" height="50"/>
<rect class="bw" x="539.5" y="230" width="3" height="290"/><rect class="b" x="537" y="330" width="8" height="180"/>
<rect class="ow" x="550.5" y="235" width="3" height="195"/><rect class="o" x="548" y="330" width="8" height="30"/>
<rect class="ow" x="562.5" y="270" width="3" height="150"/><rect class="o" x="560" y="350" width="8" height="50"/>
<rect class="ow" x="573.5" y="340" width="3" height="60"/><rect class="o" x="571" y="350" width="8" height="35"/>
<rect class="bw" x="585.5" y="320" width="3" height="100"/><rect class="b" x="583" y="385" width="8" height="15"/>
<rect class="ow" x="596.5" y="330" width="3" height="125"/><rect class="o" x="594" y="385" width="8" height="65"/>
<rect class="ow" x="608.5" y="430" width="3" height="95"/><rect class="o" x="606" y="440" width="8" height="80"/>
<rect class="ow" x="619.5" y="460" width="3" height="115"/><rect class="o" x="617" y="490" width="8" height="30"/>
<rect class="bw" x="631.5" y="470" width="3" height="80"/><rect class="b" x="629" y="488" width="8" height="32"/>
<rect class="bw" x="642.5" y="460" width="3" height="50"/><rect class="b" x="640" y="465" width="8" height="25"/>
<rect class="ow" x="654.5" y="440" width="3" height="90"/><rect class="o" x="652" y="470" width="8" height="30"/>
<rect class="bw" x="665.5" y="520" width="3" height="245"/><rect class="b" x="663" y="530" width="8" height="215"/>
<rect class="ow" x="677.5" y="520" width="3" height="145"/><rect class="o" x="675" y="530" width="8" height="40"/>
<rect class="ow" x="688.5" y="545" width="3" height="145"/><rect class="o" x="686" y="570" width="8" height="60"/>
<rect class="ow" x="700.5" y="590" width="3" height="115"/><rect class="o" x="698" y="620" width="8" height="40"/>
<rect class="bw" x="711.5" y="560" width="3" height="110"/><rect class="b" x="709" y="625" width="8" height="35"/>
<rect class="bw" x="723.5" y="590" width="3" height="50"/><rect class="b" x="721" y="610" width="8" height="20"/>
<rect class="bw" x="734.5" y="565" width="3" height="95"/><rect class="b" x="732" y="595" width="8" height="25"/>
<rect class="bw" x="746.5" y="430" width="3" height="180"/><rect class="b" x="744" y="465" width="8" height="135"/>
<rect class="bw" x="757.5" y="420" width="3" height="60"/><rect class="b" x="755" y="440" width="8" height="30"/>
<rect class="ow" x="769.5" y="430" width="3" height="30"/><rect class="o" x="767" y="440" width="8" height="10"/>
<rect class="ow" x="780.5" y="430" width="3" height="160"/><rect class="o" x="778" y="445" width="8" height="85"/>
<rect class="ow" x="792.5" y="490" width="3" height="80"/><rect class="o" x="790" y="530" width="8" height="10"/>
<rect class="bw" x="803.5" y="490" width="3" height="70"/><rect class="b" x="801" y="505" width="8" height="30"/>
<rect class="ow" x="815.5" y="495" width="3" height="65"/><rect class="o" x="813" y="525" width="8" height="20"/>
<rect class="bw" x="826.5" y="495" width="3" height="55"/><rect class="b" x="824" y="525" width="8" height="20"/>
<rect class="bw" x="838.5" y="495" width="3" height="50"/><rect class="b" x="836" y="518" width="8" height="10"/>
<rect class="bw" x="849.5" y="390" width="3" height="140"/><rect class="b" x="847" y="420" width="8" height="100"/>
<rect class="ow" x="861.5" y="370" width="3" height="75"/><rect class="o" x="859" y="425" width="8" height="7"/>
<rect class="ow" x="872.5" y="415" width="3" height="85"/><rect class="o" x="870" y="425" width="8" height="65"/>
<rect class="ow" x="884.5" y="420" width="3" height="190"/><rect class="o" x="882" y="425" width="8" height="150"/>
<rect class="bw" x="895.5" y="420" width="3" height="160"/><rect class="b" x="893" y="465" width="8" height="110"/>
<rect class="ow" x="907.5" y="450" width="3" height="120"/><rect class="o" x="905" y="465" width="8" height="65"/>
<rect class="bw" x="918.5" y="420" width="3" height="125"/><rect class="b" x="916" y="485" width="8" height="55"/>
<rect class="ow" x="930.5" y="450" width="3" height="310"/><rect class="o" x="928" y="490" width="8" height="165"/>
<rect class="bw" x="941.5" y="590" width="3" height="90"/><rect class="b" x="939" y="600" width="8" height="50"/>
<rect class="bw" x="953.5" y="480" width="3" height="160"/><rect class="b" x="951" y="500" width="8" height="100"/>
<rect class="bw" x="964.5" y="410" width="3" height="100"/><rect class="b" x="962" y="425" width="8" height="75"/>
<rect class="ow" x="976.5" y="340" width="3" height="160"/><rect class="o" x="974" y="430" width="8" height="60"/>
<rect class="ow" x="987.5" y="420" width="3" height="160"/><rect class="o" x="985" y="490" width="8" height="6"/>
<rect class="bw" x="999.5" y="330" width="3" height="170"/><rect class="b" x="997" y="365" width="8" height="125"/>
<rect class="bw" x="1010.5" y="370" width="3" height="270"/><rect class="b" x="1008" y="405" width="8" height="40"/>
<rect class="ow" x="1022.5" y="275" width="3" height="395"/><rect class="o" x="1020" y="405" width="8" height="180"/>
<rect class="ow" x="1033.5" y="510" width="3" height="155"/><rect class="o" x="1031" y="585" width="8" height="55"/>
<rect class="ow" x="1045.5" y="530" width="3" height="340"/><rect class="o" x="1043" y="640" width="8" height="155"/>
<rect class="ow" x="1056.5" y="630" width="3" height="390"/><rect class="o" x="1054" y="795" width="8" height="95"/>
<rect class="ow" x="1068.5" y="870" width="3" height="340"/><rect class="o" x="1066" y="890" width="8" height="205"/>
<rect class="ow" x="1079.5" y="1080" width="3" height="305"/><rect class="o" x="1077" y="1095" width="8" height="280"/>
<rect class="bw" x="1091.5" y="1080" width="3" height="300"/><rect class="b" x="1089" y="1150" width="8" height="225"/>
<rect class="ow" x="1102.5" y="1075" width="3" height="165"/><rect class="o" x="1100" y="1140" width="8" height="85"/>
<rect class="ow" x="1114.5" y="1210" width="3" height="230"/><rect class="o" x="1112" y="1220" width="8" height="160"/>
<rect class="ow" x="1125.5" y="1330" width="3" height="170"/><rect class="o" x="1123" y="1365" width="8" height="35"/>
<rect class="ow" x="1137.5" y="1380" width="3" height="125"/><rect class="o" x="1135" y="1395" width="8" height="50"/>
<rect class="bw" x="1148.5" y="1390" width="3" height="115"/><rect class="b" x="1146" y="1410" width="8" height="30"/>
<rect class="bw" x="1160.5" y="1275" width="3" height="140"/><rect class="b" x="1158" y="1315" width="8" height="95"/>
<rect class="ow" x="1171.5" y="1310" width="3" height="120"/><rect class="o" x="1169" y="1320" width="8" height="40"/>
<rect class="bw" x="1183.5" y="1260" width="3" height="110"/><rect class="b" x="1181" y="1320" width="8" height="45"/>
<rect class="ow" x="1194.5" y="1300" width="3" height="140"/><rect class="o" x="1192" y="1340" width="8" height="90"/>
<rect class="bw" x="1206.5" y="1367" width="3" height="323"/><rect class="b" x="1204" y="1480" width="8" height="10"/>
<rect class="ow" x="1218.5" y="1411" width="3" height="157"/><rect class="o" x="1216" y="1482" width="8" height="20"/>
<rect class="bw" x="1229.5" y="1338" width="3" height="159"/><rect class="b" x="1227" y="1406" width="8" height="89"/>
<rect class="ow" x="1241.5" y="1411" width="3" height="144"/><rect class="o" x="1239" y="1470" width="8" height="30"/>
<polyline fill="none" stroke="#1f7f1f" stroke-width="1.6" vector-effect="non-scaling-stroke" points="10,480 40,500 70,520 100,533 140,540 180,538 220,533 260,527 300,518 340,505 380,495 420,485 460,477 500,472 530,465 560,450 600,428 640,408 680,398 720,395 760,390 800,385 840,382 880,378 920,378 960,378 1000,377 1020,373 1050,378 1080,386 1110,397 1140,412 1170,432 1200,457 1230,475 1245,483"/>
</g>
<!-- green arrow -->
<polygon points="1577,272 1600,272 1600,310 1616,310 1588,341 1562,310 1577,310" fill="#2bb35f"/>
<!-- check circle -->
<circle cx="1660" cy="657" r="31" fill="#2bab5e"/>
<polyline points="1645,657 1656,667 1675,648" fill="none" stroke="#fff" stroke-width="9" stroke-linecap="round" stroke-linejoin="round"/>
<!-- annotation text -->
<text class="t" x="1636" y="739" font-size="30" font-weight="bold" fill="#f2386c" stroke="#ffffff" stroke-width="5" paint-order="stroke" stroke-linejoin="round" textLength="63" lengthAdjust="spacingAndGlyphs">決済</text>
<text class="t" x="1637" y="767" font-size="29" font-weight="bold" fill="#f2386c" stroke="#ffffff" stroke-width="5" paint-order="stroke" stroke-linejoin="round" textLength="156" lengthAdjust="spacingAndGlyphs">＋50.2pips</text>
<!-- right subwindow bars -->
<rect x="1219" y="828" width="32" height="20" fill="#66cdaa"/>
<rect x="1251" y="828" width="73" height="20" fill="#0000ff"/>
<rect x="1324" y="828" width="38" height="20" fill="#dc143c"/>
<rect x="1362" y="828" width="71" height="20" fill="#66cdaa"/>
<rect x="1433" y="828" width="73" height="20" fill="#0000ff"/>
<rect x="1506" y="828" width="38" height="20" fill="#dc143c"/>
<rect x="1544" y="828" width="72" height="20" fill="#66cdaa"/>
<rect x="1616" y="828" width="57" height="20" fill="#0000ff"/>
<!-- right borders -->
<rect x="1217.5" y="6.5" width="600" height="819" fill="none" stroke="#4b4bc6" stroke-width="1.4"/>
<rect x="1217.5" y="826.5" width="600" height="22.5" fill="none" stroke="#4b4bc6" stroke-width="1.4"/>
<rect x="1815.5" y="83" width="3.5" height="32" fill="#1c1ca0"/>
<polygon points="1222,13 1227,13 1224.5,16.5" fill="#2a2ac0"/>
<text class="t" x="1234" y="18" font-size="9" fill="#3030c0" textLength="58" lengthAdjust="spacingAndGlyphs">GBPCAD,M30</text>
<text class="t" x="1219" y="51" font-size="34" font-weight="bold" fill="#666666" textLength="188" lengthAdjust="spacingAndGlyphs">GBPCAD, M30</text>
<!-- right buttons -->
<rect x="1220" y="797" width="13" height="12" fill="#b3202c"/><rect x="1222.5" y="802" width="8" height="2" fill="#fff"/>
<rect x="1220.5" y="812.5" width="11" height="10" fill="#fff" stroke="#888"/><text class="t" x="1222.5" y="821" font-size="10" fill="#333">×</text>
<rect x="1234" y="812" width="12" height="11" fill="#c0392b"/><rect x="1238.5" y="816" width="2.5" height="2.5" fill="#fff"/>
<text class="t" x="1258" y="823" font-size="12" font-weight="bold" fill="#111" textLength="103" lengthAdjust="spacingAndGlyphs">24/03/29(金) 08:00</text>
<g stroke="#333399" stroke-width="1">
<line x1="1218.5" y1="849" x2="1218.5" y2="854"/><line x1="1280.5" y1="849" x2="1280.5" y2="854"/><line x1="1340.5" y1="849" x2="1340.5" y2="854"/><line x1="1401.5" y1="849" x2="1401.5" y2="854"/><line x1="1462.5" y1="849" x2="1462.5" y2="854"/><line x1="1522.5" y1="849" x2="1522.5" y2="854"/><line x1="1583.5" y1="849" x2="1583.5" y2="854"/><line x1="1644.5" y1="849" x2="1644.5" y2="854"/>
</g>
<g class="ax">
<text x="1218" y="862" textLength="50" lengthAdjust="spacingAndGlyphs">26 Mar 2024</text>
<text x="1280" y="862" textLength="51" lengthAdjust="spacingAndGlyphs">27 Mar 03:30</text>
<text x="1340" y="862" textLength="51" lengthAdjust="spacingAndGlyphs">27 Mar 11:30</text>
<text x="1401" y="862" textLength="51" lengthAdjust="spacingAndGlyphs">27 Mar 19:30</text>
<text x="1462" y="862" textLength="51" lengthAdjust="spacingAndGlyphs">28 Mar 03:30</text>
<text x="1522" y="862" textLength="51" lengthAdjust="spacingAndGlyphs">28 Mar 11:30</text>
<text x="1583" y="862" textLength="51" lengthAdjust="spacingAndGlyphs">28 Mar 19:30</text>
<text x="1644" y="862" textLength="51" lengthAdjust="spacingAndGlyphs">29 Mar 03:30</text>
</g>
</svg>
</body></html>
